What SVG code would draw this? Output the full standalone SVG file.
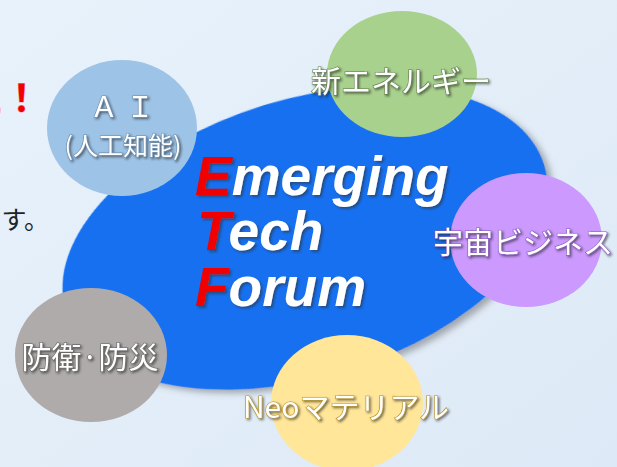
<svg xmlns="http://www.w3.org/2000/svg" width="617" height="467" viewBox="0 0 617 467">
  <defs>
    <linearGradient id="bg" x1="0" y1="0" x2="1" y2="1">
      <stop offset="0" stop-color="#E8F2FB"/>
      <stop offset="1" stop-color="#DDE9F6"/>
    </linearGradient>
    <filter id="ellShadow" x="-10%" y="-10%" width="125%" height="125%">
      <feDropShadow dx="4" dy="5" stdDeviation="3" flood-color="#555" flood-opacity="0.45"/>
    </filter>
    <filter id="txtShadow" x="-10%" y="-20%" width="125%" height="150%">
      <feDropShadow dx="1.5" dy="1.5" stdDeviation="1" flood-color="#222" flood-opacity="0.6"/>
    </filter>
    <filter id="bigShadow" x="-10%" y="-20%" width="125%" height="150%">
      <feDropShadow dx="2" dy="2" stdDeviation="1.2" flood-color="#333" flood-opacity="0.55"/>
    </filter>
  </defs>
  <style>
    .jp { font-family: "Noto Sans CJK JP", "Noto Sans", sans-serif; }
    .lbl { font-family: "Noto Sans CJK JP", "Noto Sans", sans-serif; fill: #fff; font-size: 30px; text-anchor: middle; filter: url(#txtShadow); paint-order: stroke; stroke-width: 1.2px; }
    .etf { font-family: "Liberation Sans", Arial, sans-serif; font-weight: bold; font-style: italic; font-size: 55px; fill: #fff; filter: url(#bigShadow); }
    .red { fill: #F00000; }
  </style>
  <rect width="617" height="467" fill="url(#bg)"/>

  <!-- clipped slide text at left edge -->
  <text x="40" y="112" text-anchor="end" class="jp" font-size="37" font-weight="bold" fill="#F00000" stroke="#ff9a9a" stroke-width="1" paint-order="stroke">た！</text>
  <text x="49" y="229" text-anchor="end" class="jp" font-size="25" fill="#222">ます。</text>

  <g id="forum">
    <ellipse cx="305" cy="238" rx="250" ry="139" transform="rotate(-17 305 238)" fill="#1370F0" filter="url(#ellShadow)"/>
  </g>

  <g id="ai">
    <ellipse cx="122" cy="128" rx="75" ry="68" fill="#9DC3E6"/>
    <text x="126" y="117" class="lbl" style="font-size:28px" stroke="#6d8fb0" letter-spacing="8">ＡＩ</text>
    <text x="123" y="155" class="lbl" style="font-size:25px" stroke="#6d8fb0">(人工知能)</text>
  </g>

  <g id="energy">
    <ellipse cx="402" cy="74" rx="75" ry="63" fill="#A9D18E"/>
    <text x="401" y="92" class="lbl" stroke="#5f7f48">新エネルギー</text>
  </g>

  <g id="space">
    <ellipse cx="526" cy="240" rx="76" ry="67" fill="#CC99FF"/>
    <text x="523" y="253" class="lbl" stroke="#8a5cbf">宇宙ビジネス</text>
  </g>

  <g id="defense">
    <ellipse cx="91" cy="355" rx="76" ry="67" fill="#AFABAB"/>
    <text x="90" y="368" class="lbl" stroke="#6a6666">防衛·防災</text>
  </g>

  <g id="material">
    <ellipse cx="347" cy="403" rx="76" ry="68" fill="#FFE699"/>
    <text x="346" y="418" class="lbl" stroke="#b58f20">Neoマテリアル</text>
  </g>

  <g id="title">
    <text x="195" y="195" class="etf"><tspan class="red">E</tspan>merging</text>
    <text x="197" y="250" class="etf"><tspan class="red">T</tspan>ech</text>
    <text x="195" y="306" class="etf"><tspan class="red">F</tspan>orum</text>
  </g>
</svg>
